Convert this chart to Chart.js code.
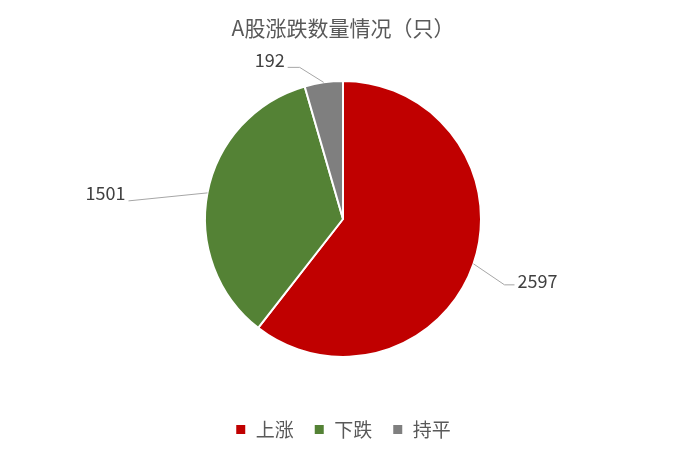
<!DOCTYPE html>
<html>
<head>
<meta charset="utf-8">
<script src="https://cdn.jsdelivr.net/npm/chart.js@4"></script>
<style>
  body { margin: 0; background: #fff; }
  #wrap { width: 693px; height: 464px; position: relative; }
</style>
</head>
<body>
<div id="wrap"><canvas id="pieChart"></canvas></div>
<script>
// chart data
var categories = ['上涨', '下跌', '持平'];
var counts = [2597, 1501, 192];
var sliceColors = ['#C00000', '#548235', '#7F7F7F'];

var FONT = "'Noto Sans CJK SC', 'Noto Sans', sans-serif";

// leader line layout for each slice label: elbow offset from the arc edge, tail length, text offset
var leaders = [
  { elbow: [31, 21], tail: 10, text: [3, -4], align: 'left' },
  { elbow: [-79, 8], tail: 0, text: [-3, -8], align: 'right' },
  { elbow: [-24, -15], tail: -12, text: [-3, -7], align: 'right' }
];

var leaderLabels = {
  id: 'leaderLabels',
  afterDatasetsDraw: function(chart) {
    var ctx = chart.ctx;
    var meta = chart.getDatasetMeta(0);
    ctx.save();
    meta.data.forEach(function(arc, i) {
      var p = arc.getProps(['x', 'y', 'startAngle', 'endAngle', 'outerRadius'], true);
      var mid = (p.startAngle + p.endAngle) / 2;
      var ex = p.x + Math.cos(mid) * p.outerRadius;
      var ey = p.y + Math.sin(mid) * p.outerRadius;
      var l = leaders[i];
      var bx = ex + l.elbow[0], by = ey + l.elbow[1];
      var tx = bx + l.tail;

      ctx.strokeStyle = '#A6A6A6';
      ctx.lineWidth = 1;
      ctx.beginPath();
      ctx.moveTo(ex, ey);
      ctx.lineTo(bx, by);
      ctx.lineTo(tx, by);
      ctx.stroke();

      ctx.fillStyle = '#404040';
      ctx.font = '18px ' + FONT;
      ctx.textAlign = l.align;
      ctx.textBaseline = 'middle';
      ctx.fillText(String(counts[i]), tx + l.text[0], by + l.text[1]);
    });
    ctx.restore();
  }
};

var ctx = document.getElementById('pieChart').getContext('2d');
var chart = new Chart(ctx, {
  type: 'pie',
  data: {
    labels: categories,
    datasets: [{
      data: counts,
      backgroundColor: sliceColors,
      borderColor: '#ffffff',
      borderWidth: 2
    }]
  },
  options: {
    responsive: true,
    maintainAspectRatio: false,
    animation: false,
    layout: {
      padding: { left: 204, right: 211, top: 0, bottom: 15 }
    },
    plugins: {
      title: {
        display: true,
        text: 'A股涨跌数量情况（只）',
        color: '#595959',
        font: { family: FONT, size: 21, weight: 'normal', lineHeight: 1 },
        padding: { top: 18, bottom: -1 }
      },
      legend: {
        position: 'bottom',
        labels: {
          color: '#595959',
          font: { family: FONT, size: 19 },
          boxWidth: 11,
          boxHeight: 11,
          padding: 20
        }
      },
      tooltip: { enabled: false }
    }
  },
  plugins: [leaderLabels]
});
</script>
</body>
</html>
